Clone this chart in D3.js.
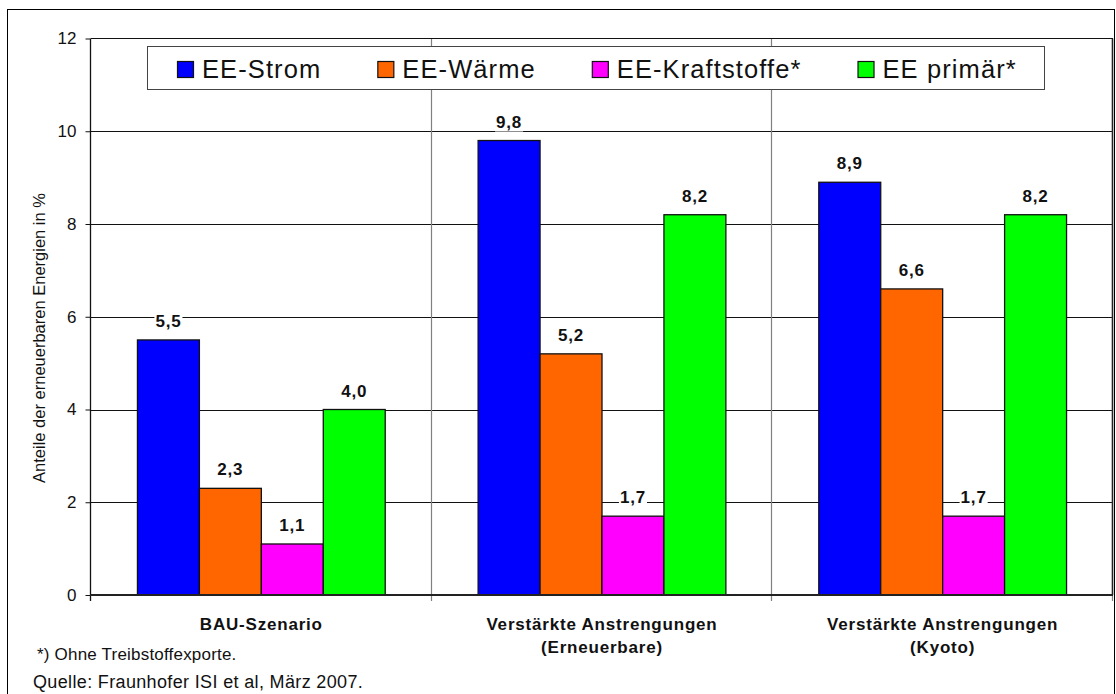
<!DOCTYPE html>
<html>
<head>
<meta charset="utf-8">
<script src="https://cdn.jsdelivr.net/npm/d3@7"></script>
<style>
  html, body { margin: 0; padding: 0; background: #fff; }
  svg { display: block; font-family: "Liberation Sans", Arial, sans-serif; }
</style>
</head>
<body>
<div id="chart"></div>
<script>
const categories = [
  ["BAU-Szenario"],
  ["Verstärkte Anstrengungen", "(Erneuerbare)"],
  ["Verstärkte Anstrengungen", "(Kyoto)"]
];
const series = ["EE-Strom", "EE-Wärme", "EE-Kraftstoffe*", "EE primär*"];
const colors = ["#0000ff", "#ff6600", "#ff00ff", "#00ff00"];
// one row per category, one value per series
const values = [
  [5.5, 2.3, 1.1, 4.0],
  [9.8, 5.2, 1.7, 8.2],
  [8.9, 6.6, 1.7, 8.2]
];
const yTicks = [0, 2, 4, 6, 8, 10, 12];
const yTitle = "Anteile der erneuerbaren Energien in %";
const footnote = "*) Ohne Treibstoffexporte.";
const source = "Quelle: Fraunhofer ISI et al, März 2007.";

const width = 1116, height = 694;
const plot = {left: 91, right: 1113, top: 38.5, bottom: 595};
const fmt = v => d3.format(".1f")(v).replace(".", ",");

const svg = d3.select("#chart").append("svg")
    .attr("width", width)
    .attr("height", height);

// outer frame
svg.append("rect")
    .attr("x", 7.5).attr("y", 9.5)
    .attr("width", 1107).attr("height", 700)
    .attr("fill", "none").attr("stroke", "#000").attr("stroke-width", 1);

const x0 = d3.scaleBand()
    .domain(d3.range(categories.length))
    .range([plot.left, plot.right]);
const x1 = d3.scaleBand()
    .domain(d3.range(series.length))
    .range([0, x0.bandwidth()])
    .paddingOuter(0.75);
const y = d3.scaleLinear()
    .domain([0, 12])
    .range([plot.bottom, plot.top]);

// horizontal gridlines
svg.append("g")
  .selectAll("line")
  .data(yTicks.filter(t => t > 0 && t < 12))
  .join("line")
    .attr("x1", plot.left).attr("x2", plot.right)
    .attr("y1", d => Math.round(y(d)) + 0.5).attr("y2", d => Math.round(y(d)) + 0.5)
    .attr("stroke", "#111").attr("stroke-width", 1);

// vertical separators between categories (continue as x ticks)
svg.append("g")
  .selectAll("line")
  .data(d3.range(1, categories.length + 1))
  .join("line")
    .attr("x1", d => Math.round(x0(0) + d * x0.bandwidth()) - 0.5)
    .attr("x2", d => Math.round(x0(0) + d * x0.bandwidth()) - 0.5)
    .attr("y1", plot.top).attr("y2", plot.bottom + 6)
    .attr("stroke", "#808080").attr("stroke-width", 1.2);

// plot frame top and right
svg.append("line")
    .attr("x1", plot.left).attr("x2", plot.right)
    .attr("y1", plot.top).attr("y2", plot.top)
    .attr("stroke", "#111").attr("stroke-width", 1.2);
svg.append("line")
    .attr("x1", plot.right - 0.5).attr("x2", plot.right - 0.5)
    .attr("y1", plot.top).attr("y2", plot.bottom)
    .attr("stroke", "#222").attr("stroke-width", 1.5);

// bars
const groups = svg.append("g")
  .selectAll("g")
  .data(values)
  .join("g")
    .attr("transform", (d, i) => `translate(${x0(i)},0)`);

groups.selectAll("rect")
  .data(d => d)
  .join("rect")
    .attr("x", (d, i) => x1(i))
    .attr("y", d => y(d))
    .attr("width", x1.bandwidth())
    .attr("height", d => y(0) - y(d))
    .attr("fill", (d, i) => colors[i])
    .attr("stroke", "#111")
    .attr("stroke-width", 1.3);

// value labels with white background
const labels = groups.selectAll("g.lbl")
  .data(d => d)
  .join("g")
    .attr("class", "lbl");

labels.append("text")
    .attr("x", (d, i) => x1(i) + x1.bandwidth() / 2)
    .attr("y", d => y(d) - 13)
    .attr("text-anchor", "middle")
    .attr("font-size", 17)
    .attr("font-weight", "bold")
    .attr("letter-spacing", 0.8)
    .attr("fill", "#111")
    .text(d => fmt(d));

labels.each(function() {
  const g = d3.select(this);
  const b = g.select("text").node().getBBox();
  g.insert("rect", "text")
      .attr("x", b.x - 1).attr("y", b.y)
      .attr("width", b.width + 2).attr("height", b.height)
      .attr("fill", "#fff");
});

// y axis
const yAxis = svg.append("g")
    .attr("transform", `translate(${plot.left - 0.5},0)`)
    .call(d3.axisLeft(y).tickValues(yTicks).tickSize(5).tickPadding(9).tickFormat(d3.format("d")));
yAxis.select(".domain")
    .attr("d", `M0,${plot.top}V${plot.bottom + 6}`)
    .attr("stroke", "#111").attr("stroke-width", 1.3);
yAxis.selectAll(".tick line").attr("stroke", "#111");
yAxis.selectAll(".tick text")
    .attr("font-size", 17)
    .attr("font-family", "Liberation Sans, Arial, sans-serif")
    .attr("fill", "#111");

// x axis line
svg.append("line")
    .attr("x1", plot.left - 1).attr("x2", plot.right)
    .attr("y1", plot.bottom).attr("y2", plot.bottom)
    .attr("stroke", "#222").attr("stroke-width", 2);

// category labels
svg.append("g")
  .selectAll("text")
  .data(categories)
  .join("text")
    .attr("x", (d, i) => x0(i) + x0.bandwidth() / 2)
    .attr("y", 630)
    .attr("text-anchor", "middle")
    .attr("font-size", 17)
    .attr("font-weight", "bold")
    .attr("letter-spacing", 0.8)
    .attr("fill", "#111")
  .selectAll("tspan")
  .data(d => d)
  .join("tspan")
    .attr("x", function() { return this.parentNode.getAttribute("x"); })
    .attr("dy", (d, i) => i === 0 ? 0 : 23)
    .text(d => d);

// y title
svg.append("text")
    .attr("transform", "translate(45,338) rotate(-90)")
    .attr("text-anchor", "middle")
    .attr("font-size", 16.5)
    .attr("fill", "#111")
    .text(yTitle);

// legend
const legend = svg.append("g");
legend.append("rect")
    .attr("x", 147.5).attr("y", 46.5)
    .attr("width", 897).attr("height", 43)
    .attr("fill", "#fff").attr("stroke", "#444").attr("stroke-width", 1);

let lx = 177;
series.forEach((s, i) => {
  legend.append("rect")
      .attr("x", lx + 0.5).attr("y", 61.5)
      .attr("width", 16).attr("height", 16)
      .attr("fill", colors[i]).attr("stroke", "#111").attr("stroke-width", 1.2);
  const t = legend.append("text")
      .attr("x", lx + 25).attr("y", 78)
      .attr("font-size", 25.5)
      .attr("letter-spacing", 1.1)
      .attr("fill", "#111")
      .text(s);
  lx += 25 + t.node().getComputedTextLength() + 56;
});

// notes
svg.append("text")
    .attr("x", 37).attr("y", 660)
    .attr("font-size", 17)
    .attr("letter-spacing", 0.2)
    .attr("fill", "#111")
    .text(footnote);
svg.append("text")
    .attr("x", 33).attr("y", 688)
    .attr("font-size", 18)
    .attr("letter-spacing", 0.35)
    .attr("fill", "#111")
    .text(source);
</script>
</body>
</html>
